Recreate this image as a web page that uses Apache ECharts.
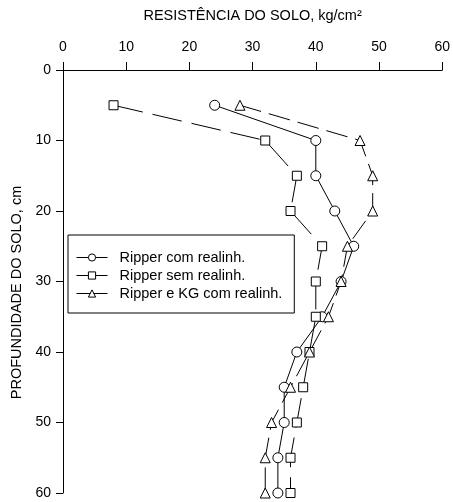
<!DOCTYPE html>
<html><head><meta charset="utf-8">
<script src="https://cdn.jsdelivr.net/npm/echarts@6/dist/echarts.min.js"></script>
<style>html,body{margin:0;padding:0;background:#fff}#c{width:453px;height:502px}</style>
</head><body><div id="c"></div>
<script>
var depths = [5,10,15,20,25,30,35,40,45,50,55,60];
var comRealinh = [24,40,40,43,46,44,41,37,35,35,34,34];
var semRealinh = [8,32,37,36,41,40,40,39,38,37,36,36];
var kgRealinh = [28,47,49,49,45,44,42,39,36,33,32,32];
var xTicks = [0,10,20,30,40,50,60];
var yTicks = [0,10,20,30,40,50,60];
var seriesNames = ['Ripper com realinh.','Ripper sem realinh.','Ripper e KG com realinh.'];

function pairs(vals){ return vals.map(function(v,i){ return [v, depths[i]]; }); }
var F = 'Liberation Sans, Arial, sans-serif';
var chart = echarts.init(document.getElementById('c'), null, {renderer:'canvas'});
function mk(name, vals, sym, size, dash){
  return {
    type:'line', name:name, data:pairs(vals), symbol:sym, symbolSize:size, showSymbol:true,
    itemStyle:{color:'#fff', borderColor:'#000', borderWidth:1},
    lineStyle:{color:'#000', width:1, type:dash},
    emphasis:{disabled:true}, animation:false
  };
}
chart.setOption({
  animation:false,
  backgroundColor:'#fff',
  grid:{left:63, right:9, top:70, bottom:9, containLabel:false},
  xAxis:{
    type:'value', position:'top', min:xTicks[0], max:xTicks[xTicks.length-1], interval:10,
    name:'RESISTÊNCIA DO SOLO, kg/cm²', nameLocation:'middle', nameGap:47,
    nameTextStyle:{fontFamily:F, fontSize:14.5, color:'#000'},
    axisLine:{show:true, onZero:false, lineStyle:{color:'#000', width:1}},
    axisTick:{show:true, length:8, lineStyle:{color:'#000'}},
    axisLabel:{fontFamily:F, fontSize:14, color:'#000', margin:16},
    splitLine:{show:false}
  },
  yAxis:{
    type:'value', inverse:true, min:yTicks[0], max:yTicks[yTicks.length-1], interval:10,
    name:'PROFUNDIDADE DO SOLO, cm', nameLocation:'middle', nameGap:37, nameRotate:90,
    nameTextStyle:{fontFamily:F, fontSize:14.5, color:'#000', padding:[0,22,0,0]},
    axisLine:{show:true, onZero:false, lineStyle:{color:'#000', width:1}},
    axisTick:{show:true, length:7, lineStyle:{color:'#000'}},
    axisLabel:{fontFamily:F, fontSize:14, color:'#000', margin:12},
    splitLine:{show:false}
  },
  legend:{
    show:true, orient:'vertical', left:68, top:235,
    padding:[15,12,12,8], itemGap:3, itemWidth:31, itemHeight:9,
    borderColor:'#000', borderWidth:1, backgroundColor:'#fff',
    textStyle:{fontFamily:F, fontSize:14.5, color:'#000', padding:[0,0,0,7]},
    itemStyle:{color:'#fff', borderColor:'#000', borderWidth:1},
    lineStyle:{type:'solid', color:'#000', width:1},
    data:seriesNames
  },
  series:[
    mk(seriesNames[0], comRealinh, 'circle', 10, 'solid'),
    mk(seriesNames[1], semRealinh, 'rect', 9, [30,10]),
    mk(seriesNames[2], kgRealinh, 'triangle', 10, [22,8])
  ]
});
</script></body></html>
